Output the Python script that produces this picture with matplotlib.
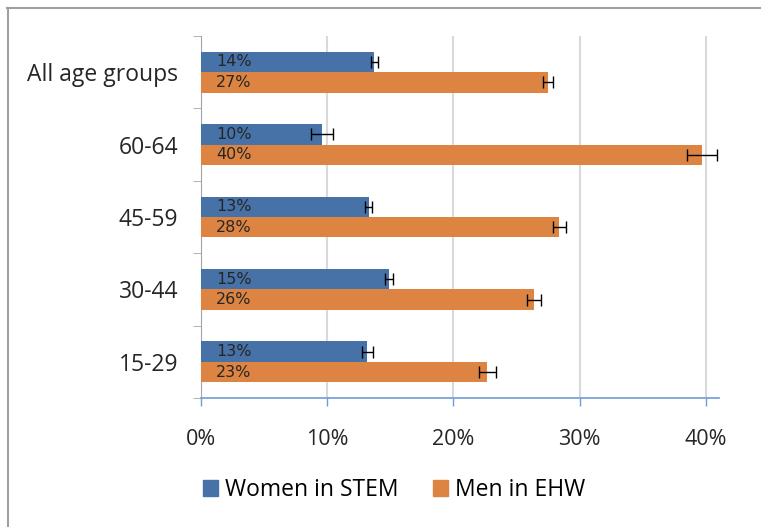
import numpy as np
import matplotlib as mpl
mpl.use('Agg')
import matplotlib.pyplot as plt
from matplotlib.lines import Line2D
from matplotlib.patches import Patch

# data, top to bottom as in the chart
groups = ['All age groups', '60-64', '45-59', '30-44', '15-29']
women_stem = [13.75, 9.6, 13.3, 14.9, 13.2]
women_err = [0.25, 0.85, 0.3, 0.3, 0.45]
men_ehw = [27.5, 39.7, 28.4, 26.4, 22.7]
men_err = [0.4, 1.2, 0.5, 0.55, 0.7]
women_lbl = ['14%', '10%', '13%', '15%', '13%']
men_lbl = ['27%', '40%', '28%', '26%', '23%']
xticks = [0, 10, 20, 30, 40]

blue = '#4672a8'
orange = '#dd8442'

plt.rcParams['font.family'] = ['Open Sans', 'DejaVu Sans']

fig = plt.figure(figsize=(7.61, 5.27), dpi=100)
ax = fig.add_axes([200.7/761, 129/527, (718.6-200.7)/761, (398-36)/527])

y = np.arange(len(groups))
h = 0.283
ekw = dict(ecolor='black', elinewidth=1, capsize=4.5, capthick=1)
ax.barh(y - h/2, women_stem, h, color=blue, xerr=women_err, error_kw=ekw, zorder=3)
ax.barh(y + h/2, men_ehw, h, color=orange, xerr=men_err, error_kw=ekw, zorder=3)

for i in range(len(groups)):
    ax.text(1.2, y[i] - h/2, women_lbl[i], va='center', ha='left', fontsize=11.5,
            color='#262626', family='DejaVu Sans', zorder=4)
    ax.text(1.2, y[i] + h/2, men_lbl[i], va='center', ha='left', fontsize=11.5,
            color='#262626', family='DejaVu Sans', zorder=4)

ax.set_xlim(0, 41)
ax.set_ylim(len(groups) - 0.5, -0.5)
ax.set_xticks(xticks)
ax.set_xticklabels([f'{v}%' for v in xticks], fontsize=15.5, color='#262626')
ax.set_yticks(y)
ax.set_yticklabels(groups, fontsize=16.5, color='#262626')
ax.set_yticks(np.arange(-0.5, len(groups), 1), minor=True)
ax.tick_params(axis='y', which='major', length=0, pad=16)
ax.tick_params(axis='y', which='minor', length=6, color='#a6a6a6', direction='out')
ax.tick_params(axis='x', length=6, color='#6f9bd4', width=1, pad=16)
ax.grid(axis='x', color='#d9d9d9', linewidth=1.5, zorder=0)

for s in ['top', 'right']:
    ax.spines[s].set_visible(False)
ax.spines['left'].set_color('#a6a6a6')
ax.spines['bottom'].set_color('#6f9bd4')
ax.spines['bottom'].set_linewidth(1.2)

handles = [Patch(color=blue), Patch(color=orange)]
fig.legend(handles, ['Women in STEM', 'Men in EHW'], loc='center',
           bbox_to_anchor=(394/761, 37/527), ncol=2, frameon=False, fontsize=16.5,
           handlelength=0.65, handleheight=0.65, handletextpad=0.3, columnspacing=1.5)

# outer frame of the chart area
fig.add_artist(Line2D([7.5/761, 7.5/761], [0, 1 - 8/527], color='#a0a0a0', lw=1.5))
fig.add_artist(Line2D([7/761, 1], [1 - 8/527, 1 - 8/527], color='#a0a0a0', lw=1.5))

fig.savefig('out.png', dpi=100)
